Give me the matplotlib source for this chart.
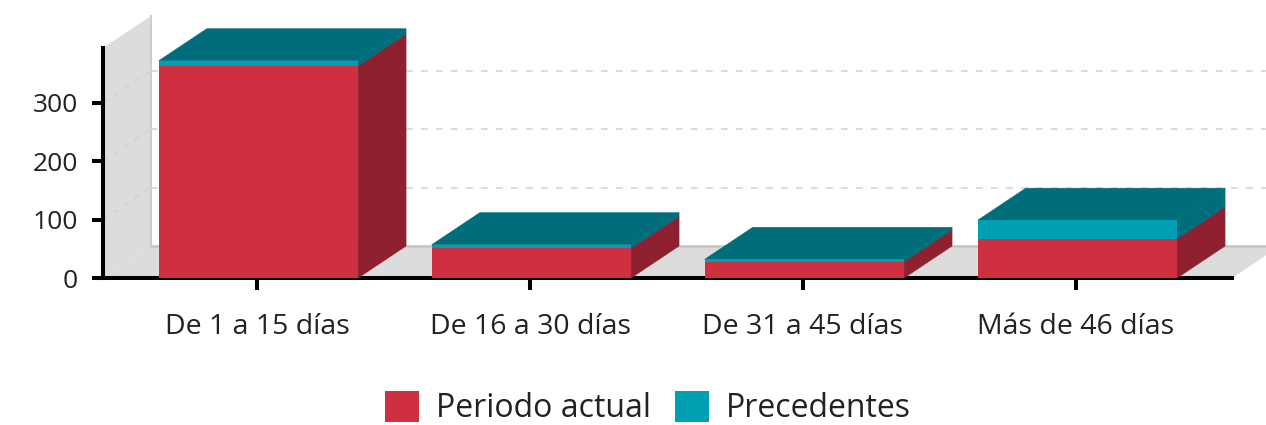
import matplotlib
matplotlib.use('Agg')
import matplotlib.pyplot as plt
from matplotlib.patches import Polygon

categories = ['De 1 a 15 días', 'De 16 a 30 días', 'De 31 a 45 días', 'Más de 46 días']
periodo_actual = [363, 51, 28, 67]
precedentes = [9, 6, 4, 32]
y_ticks = [0, 100, 200, 300]
series_names = ['Periodo actual', 'Precedentes']

RED = '#CE3040'
RED_SIDE = '#8F2030'
TEAL = '#00A0B4'
TEAL_TOP = '#006D7A'
WALL = '#DCDCDC'
W, H = 1266, 425

plt.rcParams['font.family'] = ['Open Sans', 'DejaVu Sans']

fig = plt.figure(figsize=(W / 100, H / 100), dpi=100)
ax = fig.add_axes([103 / W, (H - 278) / H, (1232 - 103) / W, 230 / H])
ax.set_xlim((103 - 257) / 273, (1232 - 257) / 273)
ax.set_ylim(0, 230 / 0.584)
x0, x1 = ax.get_xlim()
y1 = ax.get_ylim()[1]

# depth of the fake 3D, in data units
dx = 48 / 273
dy = 32 / 0.584
bar_width = 0.73
bar_shift = 1.4 / 273

# wall and floor
ax.add_patch(Polygon([(x0, 0), (x0 + dx, dy), (x0 + dx, y1 + dy), (x0, y1)], fc=WALL, ec='none',
                     clip_on=False, zorder=1))
ax.add_patch(Polygon([(x0, 0), (x0 + dx, dy), (x1 + dx, dy), (x1, 0)], fc=WALL, ec='none',
                     clip_on=False, zorder=1))
ax.plot([x0 + dx, x0 + dx], [dy, y1 + dy], color='#CDCDCD', lw=1.5, clip_on=False, zorder=1.2)
ax.plot([x0 + dx, x1 + dx], [dy, dy], color='#C8C8C8', lw=2, clip_on=False, zorder=1.2)

# gridlines run along the wall and then across the back
for t in y_ticks[1:]:
    ax.plot([x0, x0 + dx], [t, t + dy], color='#CFCFCF', lw=1, ls=(0, (4, 5)), clip_on=False, zorder=1.3)
    ax.plot([x0 + dx, x1 + dx], [t + dy, t + dy], color='#D6D6D6', lw=1.2, ls=(0, (4, 5)),
            clip_on=False, zorder=1.3)

xs = list(range(len(categories)))
bar_xs = [x + bar_shift for x in xs]
bars_a = ax.bar(bar_xs, periodo_actual, bar_width, color=RED, zorder=3, label=series_names[0])
bars_b = ax.bar(bar_xs, precedentes, bar_width, bottom=periodo_actual, color=TEAL, zorder=3,
                label=series_names[1])

for x, a, b in zip(bar_xs, periodo_actual, precedentes):
    right = x + bar_width / 2
    left = x - bar_width / 2
    total = a + b
    ax.add_patch(Polygon([(right, 0), (right + dx, dy), (right + dx, a + dy), (right, a)],
                         fc=RED_SIDE, ec=RED_SIDE, lw=0.4, clip_on=False, zorder=2.9))
    ax.add_patch(Polygon([(right, a), (right + dx, a + dy), (right + dx, total + dy), (right, total)],
                         fc=TEAL_TOP, ec=TEAL_TOP, lw=0.4, clip_on=False, zorder=2.9))
    ax.add_patch(Polygon([(left, total), (left + dx, total + dy), (right + dx, total + dy), (right, total)],
                         fc=TEAL_TOP, ec=TEAL_TOP, lw=0.4, clip_on=False, zorder=2.9))

ax.patch.set_visible(False)
for s in ['top', 'right']:
    ax.spines[s].set_visible(False)
for s in ['left', 'bottom']:
    ax.spines[s].set_linewidth(2.9)
    ax.spines[s].set_color('black')

ax.set_xticks(xs)
ax.set_xticklabels(categories)
ax.set_yticks(y_ticks)
ax.tick_params(axis='x', length=8.5, width=2.9, pad=17, labelsize=20.5, labelcolor='#222222')
ax.tick_params(axis='y', length=8, width=2.9, pad=10, labelsize=19, labelcolor='#222222')

fig.legend([bars_a, bars_b], series_names, loc='center', bbox_to_anchor=(648 / W, 1 - 408 / H), ncol=2,
           frameon=False, fontsize=23, labelcolor='#222222', handlelength=1.06, handleheight=1.1,
           handletextpad=0.53, columnspacing=0.75)

plt.savefig('out.png', dpi=100)
plt.close()
